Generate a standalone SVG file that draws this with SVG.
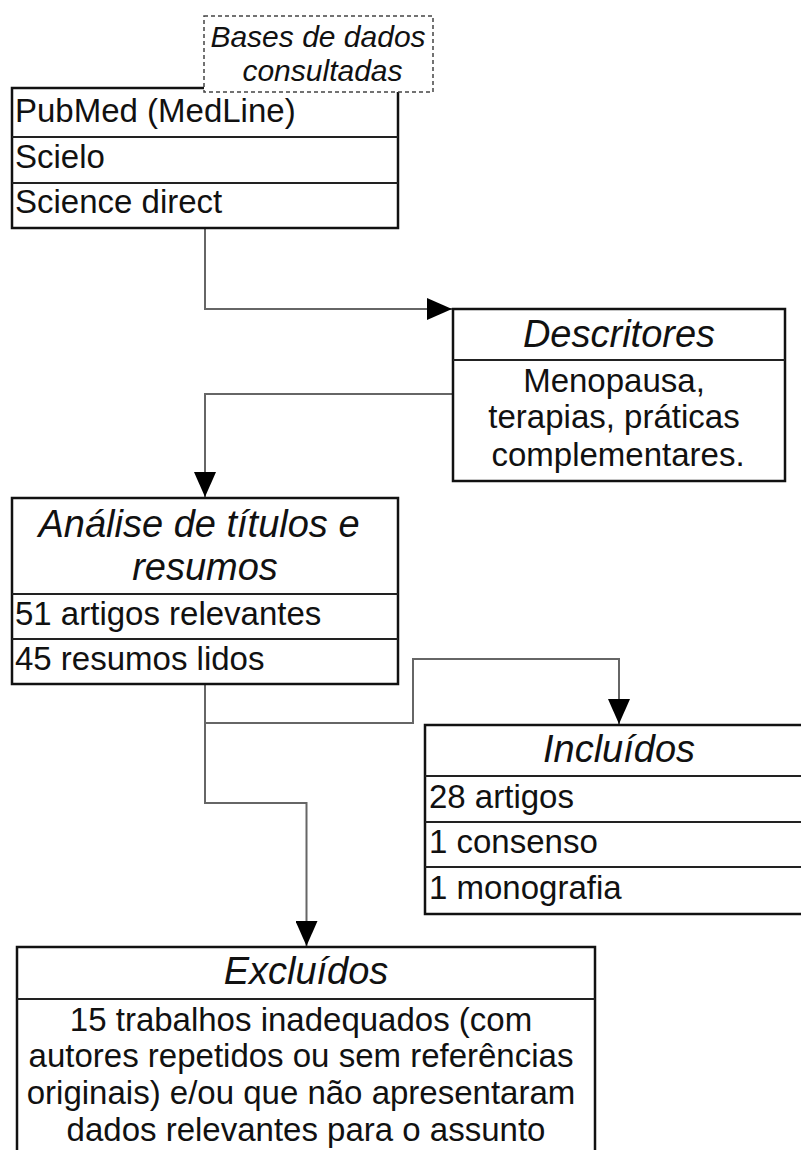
<svg xmlns="http://www.w3.org/2000/svg" width="801" height="1150" viewBox="0 0 801 1150">
<defs>
<style>
.box{fill:#fff;stroke:#111;stroke-width:2.5}
.div{stroke:#222;stroke-width:2}
.dash{fill:#fff;stroke:#444;stroke-width:1.5;stroke-dasharray:4 3}
.con{fill:none;stroke:#666;stroke-width:2}
.t{font-family:"Liberation Sans",Arial,sans-serif;font-size:33px;fill:#111}
.h{font-family:"Liberation Sans",Arial,sans-serif;font-size:38px;font-style:italic;fill:#111;text-anchor:middle}
.hs{font-family:"Liberation Sans",Arial,sans-serif;font-size:30px;font-style:italic;fill:#111;text-anchor:middle}
.c{text-anchor:middle}
</style>
<marker id="arr" markerUnits="userSpaceOnUse" markerWidth="26" markerHeight="22" refX="25" refY="11" orient="auto">
<polygon points="0,0 25,11 0,22" fill="#000"/>
</marker>
</defs>
<rect width="801" height="1150" fill="#fff"/>

<g id="connectors">
<path class="con" d="M205,228 V309 H452" marker-end="url(#arr)"/>
<path class="con" d="M453,394 H205 V497" marker-end="url(#arr)"/>
<path class="con" d="M205,684 V723 H413 V659 H619 V724" marker-end="url(#arr)"/>
<path class="con" d="M205,723 V803 H306.5 V946" marker-end="url(#arr)"/>
</g>

<g id="bases">
<rect class="box" x="12" y="88" width="386" height="140"/>
<line class="div" x1="12" y1="137" x2="398" y2="137"/>
<line class="div" x1="12" y1="183" x2="398" y2="183"/>
<text class="t" x="15" y="122">PubMed (MedLine)</text>
<text class="t" x="15" y="168">Scielo</text>
<text class="t" x="15" y="213">Science direct</text>
</g>

<g id="bases-label">
<rect class="dash" x="204" y="16" width="229" height="76"/>
<text class="hs" x="318" y="47">Bases de dados</text>
<text class="hs" x="322.5" y="81">consultadas</text>
</g>

<g id="descritores">
<rect class="box" x="453" y="309" width="332" height="172"/>
<line class="div" x1="453" y1="360" x2="785" y2="360"/>
<text class="h" x="619" y="347">Descritores</text>
<text class="t c" x="614" y="392">Menopausa,</text>
<text class="t c" x="614" y="428">terapias, práticas</text>
<text class="t c" x="618" y="466">complementares.</text>
</g>

<g id="analise">
<rect class="box" x="12" y="498" width="386" height="186"/>
<line class="div" x1="12" y1="594" x2="398" y2="594"/>
<line class="div" x1="12" y1="639" x2="398" y2="639"/>
<text class="h" x="199" y="537">Análise de títulos e</text>
<text class="h" x="205" y="580">resumos</text>
<text class="t" x="15" y="625">51 artigos relevantes</text>
<text class="t" x="15" y="670">45 resumos lidos</text>
</g>

<g id="incluidos">
<rect class="box" x="425" y="725" width="388" height="189"/>
<line class="div" x1="425" y1="776" x2="813" y2="776"/>
<line class="div" x1="425" y1="822" x2="813" y2="822"/>
<line class="div" x1="425" y1="867" x2="813" y2="867"/>
<text class="h" x="619" y="762">Incluídos</text>
<text class="t" x="429" y="808">28 artigos</text>
<text class="t" x="429" y="853">1 consenso</text>
<text class="t" x="429" y="899">1 monografia</text>
</g>

<g id="excluidos">
<rect class="box" x="17" y="947" width="578" height="220"/>
<line class="div" x1="17" y1="999" x2="595" y2="999"/>
<text class="h" x="306" y="984">Excluídos</text>
<text class="t c" x="301" y="1031">15 trabalhos inadequados (com</text>
<text class="t c" x="301" y="1067">autores repetidos ou sem referências</text>
<text class="t c" x="301" y="1104">originais) e/ou que não apresentaram</text>
<text class="t c" x="306" y="1141">dados relevantes para o assunto</text>
</g>
</svg>
